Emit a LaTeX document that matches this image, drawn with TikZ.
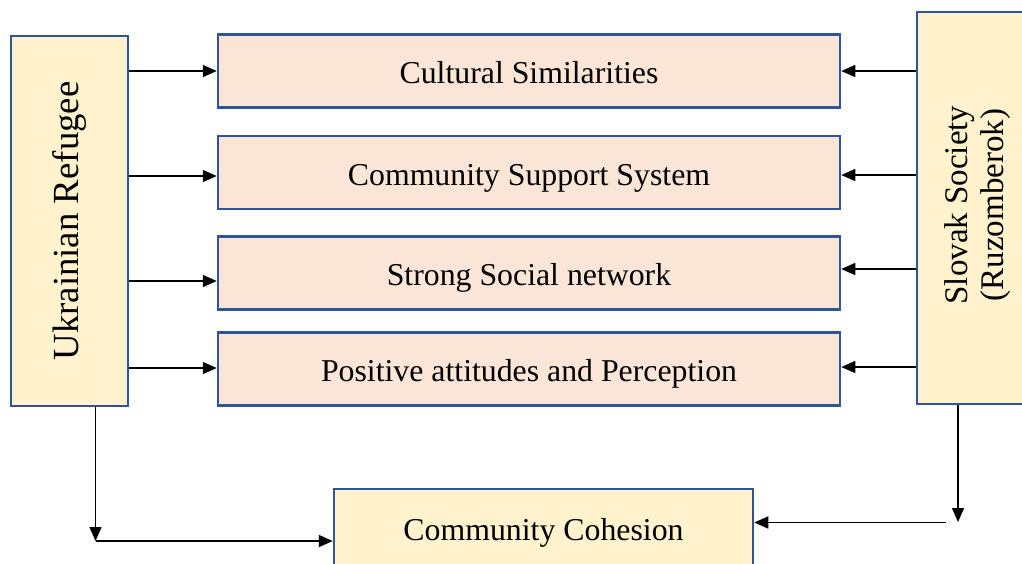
\documentclass[tikz,border=0pt]{standalone}
\usepackage{fontspec}
\setmainfont{Liberation Serif}
\usetikzlibrary{arrows.meta}
\definecolor{boxline}{HTML}{2F5597}
\definecolor{cream}{HTML}{FFF2CC}
\definecolor{peach}{HTML}{FBE5D6}
\tikzset{
	sidebox/.style={draw=boxline, line width=2.5pt, fill=cream, inner sep=0pt},
	factorbox/.style={draw=boxline, line width=2.5pt, fill=peach, inner sep=0pt,
		minimum width=622pt, minimum height=73pt, text height=28pt, text depth=3pt,
		font=\fontsize{31.8}{38}\selectfont},
	arr/.style={-{Triangle[length=14pt,width=12pt]}, line width=1.4pt}
}
\begin{document}
\begin{tikzpicture}[x=1pt, y=-1pt]
	\useasboundingbox (0,0) rectangle (1022,563);
	\begin{scope}
	\clip (0,0) rectangle (1022,563);
	% side boxes
	\node[sidebox, minimum width=117pt, minimum height=370pt] (ukr) at (69.5, 221) {};
	\node[rotate=90, font=\fontsize{36.8}{42}\selectfont] (ukrtxt) at (ukr) {Ukrainian Refugee};
	\node[sidebox, minimum width=122pt, minimum height=392pt] (slo) at (978, 208) {};
	\node[rotate=90, align=center, font=\fontsize{33}{36}\selectfont] (slotxt) at (978, 205) {Slovak Society\\(Ruzomberok)};
	% factors
	\node[factorbox] (cul) at (529, 71) {Cultural Similarities};
	\node[factorbox] (sup) at (529, 172.5) {Community Support System};
	\node[factorbox] (net) at (529, 273) {Strong Social network};
	\node[factorbox] (att) at (529, 369) {Positive attitudes and Perception};
	% outcome
	\node[sidebox, minimum width=419pt, minimum height=76pt, text height=28pt, text depth=2pt,
		font=\fontsize{31.8}{38}\selectfont] (coh) at (543.5, 527) {Community Cohesion};
	\end{scope}
	% arrows from the refugee side
	\draw[arr] (ukr.east |- cul.west) -- (cul.west);
	\draw[arr] ([yshift=-3.5pt]ukr.east |- sup.west) -- ([yshift=-3.5pt]sup.west);
	\draw[arr] ([yshift=-8pt]ukr.east |- net.west) -- ([yshift=-8pt]net.west);
	\draw[arr] ([yshift=1pt]ukr.east |- att.west) -- ([yshift=1pt]att.west);
	% arrows from the host side
	\draw[arr] (slo.west |- cul.east) -- (cul.east);
	\draw[arr] ([yshift=-2.5pt]slo.west |- sup.east) -- ([yshift=-2.5pt]sup.east);
	\draw[arr] ([yshift=4pt]slo.west |- net.east) -- ([yshift=4pt]net.east);
	\draw[arr] ([yshift=2pt]slo.west |- att.east) -- ([yshift=2pt]att.east);
	% down to cohesion
	\coordinate (lc) at (95.5, 541);
	\draw[arr] (ukr.south -| lc) -- (lc);
	\draw[arr] (lc) -- (coh.west |- lc);
	\coordinate (rc) at (958, 522);
	\coordinate (rs) at (946, 522.5);
	\draw[arr] (slo.south -| rc) -- (rc);
	\draw[arr] (rs) -- (coh.east |- rs);
\end{tikzpicture}
\end{document}
